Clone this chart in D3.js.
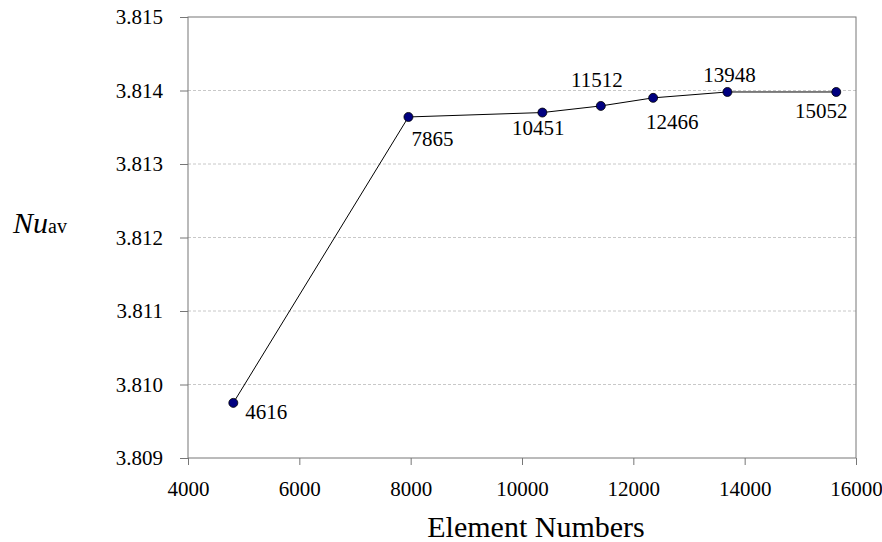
<!DOCTYPE html>
<html lang="en">
<head>
  <meta charset="UTF-8">
  <script src="https://cdn.jsdelivr.net/npm/d3@7"></script>
  <title>Nu av vs element numbers</title>
  <style>
    body { margin: 0; background: #fff; }
  </style>
</head>
<body>
  <svg width="882" height="542" font-family="'Liberation Serif', 'Times New Roman', serif"></svg>
  <script>
    // data
    var xValues = [4814, 7960, 10366, 11416, 12356, 13690, 15645];
    var nuValues = [3.80975, 3.81364, 3.81370, 3.81379, 3.81390, 3.81398, 3.81398];
    var pointLabels = ["4616", "7865", "10451", "11512", "12466", "13948", "15052"];
    var xTicks = [4000, 6000, 8000, 10000, 12000, 14000, 16000];
    var yTicks = [3.809, 3.810, 3.811, 3.812, 3.813, 3.814, 3.815];

    // label offsets relative to each point (anchor, dx, dy)
    var labelPlace = [
      ["start", 12, 16], ["start", 3, 29], ["middle", -4, 22], ["middle", -4, -19],
      ["middle", 19, 31], ["middle", 2, -10], ["middle", -15, 26]
    ];

    var serif = "'Liberation Serif', 'Times New Roman', serif";
    var svg = d3.select("svg");
    var pLeft = 188, pRight = 856, pTop = 17, pBottom = 458;

    var x = d3.scaleLinear().domain([4000, 16000]).range([pLeft, pRight]);
    var y = d3.scaleLinear().domain([3.809, 3.815]).range([pBottom, pTop]);

    // gridlines
    svg.append("g").selectAll("line")
      .data(yTicks.slice(1, -1))
      .enter().append("line")
      .attr("x1", pLeft).attr("x2", pRight)
      .attr("y1", function(d){ return y(d) }).attr("y2", function(d){ return y(d) })
      .attr("stroke", "#c8c8c8").attr("stroke-dasharray", "3,2");

    // plot frame
    svg.append("rect")
      .attr("x", pLeft).attr("y", pTop)
      .attr("width", pRight - pLeft).attr("height", pBottom - pTop)
      .attr("fill", "none").attr("stroke", "#777");

    // axes
    var xAxis = svg.append("g")
      .attr("transform", "translate(0," + pBottom + ")")
      .call(d3.axisBottom(x).tickValues(xTicks).tickSize(7).tickPadding(16).tickFormat(d3.format("d")));
    var yAxis = svg.append("g")
      .attr("transform", "translate(" + pLeft + ",0)")
      .call(d3.axisLeft(y).tickValues(yTicks).tickSize(8).tickPadding(17).tickFormat(d3.format(".3f")));
    [xAxis, yAxis].forEach(function(a){
      a.attr("font-family", serif).attr("font-size", 21);
      a.select(".domain").remove();
      a.selectAll(".tick line").attr("stroke", "#777");
      a.selectAll(".tick text").attr("fill", "#000");
    });

    // line
    var pts = xValues.map(function(d, i){ return [d, nuValues[i]] });
    var line = d3.line().x(function(d){ return x(d[0]) }).y(function(d){ return y(d[1]) });
    svg.append("path").datum(pts)
      .attr("d", line).attr("fill", "none").attr("stroke", "#000").attr("stroke-width", 1);

    // markers
    svg.append("g").selectAll("circle")
      .data(pts).enter().append("circle")
      .attr("cx", function(d){ return x(d[0]) })
      .attr("cy", function(d){ return y(d[1]) })
      .attr("r", 4.5)
      .attr("fill", "#000080").attr("stroke", "#000").attr("stroke-width", 0.8);

    // point labels
    svg.append("g").attr("font-family", serif).attr("font-size", 21)
      .selectAll("text")
      .data(pts).enter().append("text")
      .attr("x", function(d, i){ return x(d[0]) + labelPlace[i][1] })
      .attr("y", function(d, i){ return y(d[1]) + labelPlace[i][2] })
      .attr("text-anchor", function(d, i){ return labelPlace[i][0] })
      .text(function(d, i){ return pointLabels[i] });

    // axis titles
    svg.append("text")
      .attr("x", 536).attr("y", 537)
      .attr("text-anchor", "middle")
      .attr("font-family", serif).attr("font-size", 30)
      .text("Element Numbers");

    var yt = svg.append("text").attr("x", 13).attr("y", 233).attr("font-family", serif);
    yt.append("tspan").attr("font-size", 30).attr("font-style", "italic").text("Nu");
    yt.append("tspan").attr("font-size", 20).text("av");
  </script>
</body>
</html>
